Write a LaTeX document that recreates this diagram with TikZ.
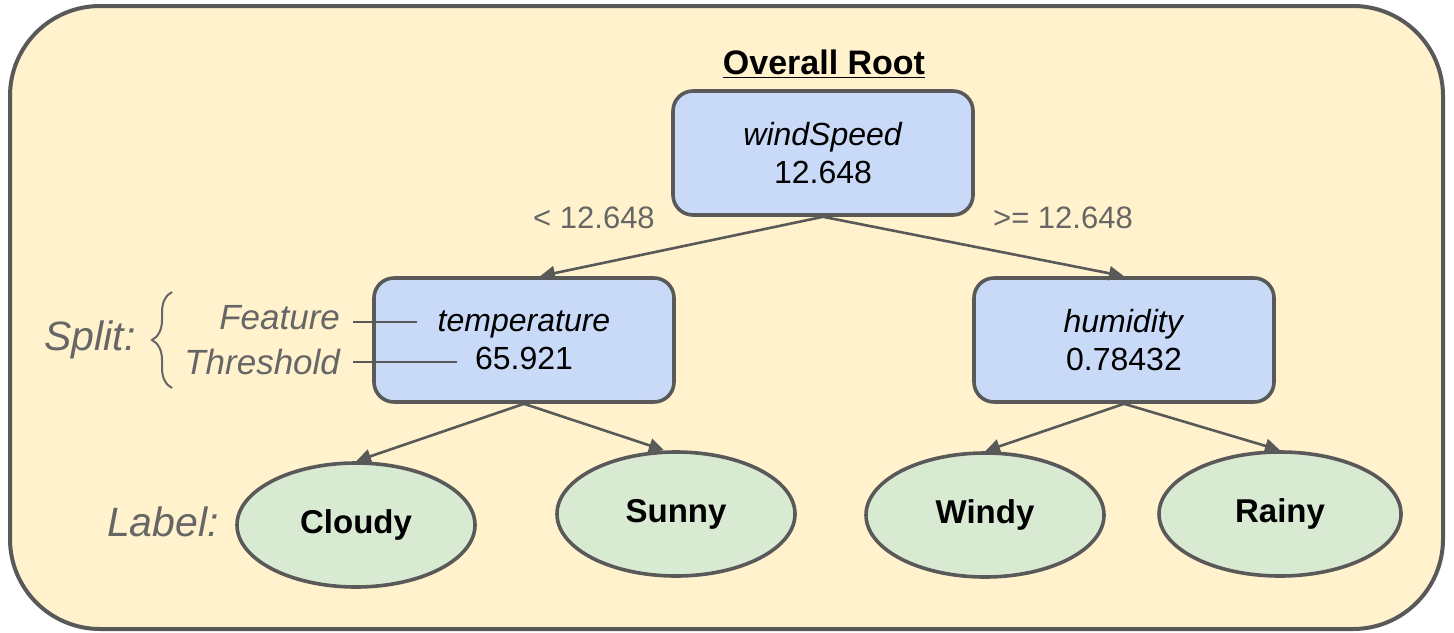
\documentclass[tikz,border=0pt]{standalone}
\usepackage{fontspec}
\setmainfont{Liberation Sans}
\usetikzlibrary{arrows.meta,shapes.geometric,decorations.pathreplacing}

\definecolor{panelfill}{HTML}{FFF2CC}
\definecolor{splitfill}{HTML}{C9DAF8}
\definecolor{leaffill}{HTML}{D9EAD3}
\definecolor{edgegray}{HTML}{595959}
\definecolor{notegray}{HTML}{666666}

\begin{document}
\begin{tikzpicture}[x=0.5pt,y=-0.5pt]
    \tikzset{splitbox/.style={draw=edgegray, line width=1.8pt, fill=splitfill, rounded corners=10pt,
        minimum width=150pt, minimum height=62pt, inner sep=0pt, align=center,
        font=\fontsize{16}{19}\selectfont}}
    \tikzset{leaf/.style={ellipse, draw=edgegray, line width=1.8pt, fill=leaffill,
        minimum width=119pt, minimum height=62pt, inner sep=0pt,
        font=\bfseries\fontsize{16.5}{20}\selectfont}}
    \tikzset{branch/.style={draw=edgegray, line width=1.3pt, -{Triangle[length=7.5pt,width=7pt]}}}
    \tikzset{cond/.style={text=notegray, font=\fontsize{15.5}{18}\selectfont}}
    \tikzset{note/.style={text=notegray, font=\itshape\fontsize{17.5}{21}\selectfont}}
    \tikzset{bignote/.style={text=notegray, font=\itshape\fontsize{20.5}{24}\selectfont}}

    \useasboundingbox (0,0) rectangle (1454,632);
    % background panel
    \draw[edgegray, line width=2pt, fill=panelfill, rounded corners=45pt] (10,6) rectangle (1443,629);

    % split nodes
    \node[font=\bfseries\fontsize{17}{20}\selectfont] (rootlbl) at (824,64) {\underline{Overall Root}};
    \node[splitbox] (wind) at (823,153) {\textit{windSpeed}\\12.648};
    \node[splitbox] (temp) at (524,340) {\textit{temperature}\\65.921};
    \node[splitbox] (humid) at (1124,340) {\textit{humidity}\\0.78432};

    % leaves
    \node[leaf] (cloudy) at (356,525) {Cloudy};
    \node[leaf] (sunny) at (676,514) {Sunny};
    \node[leaf] (windy) at (985,515) {Windy};
    \node[leaf, minimum width=121pt] (rainy) at (1280,514) {Rainy};

    % branches
    \draw[branch] (wind.south) -- ([xshift=8pt]temp.north);
    \draw[branch] (wind.south) -- (humid.north);
    \draw[branch] (temp.south) -- (cloudy.north);
    \draw[branch] (temp.south) -- ([xshift=-6pt]sunny.north);
    \draw[branch] (humid.south) -- (windy.north);
    \draw[branch] (humid.south) -- (rainy.north);

    \node[cond] (lessthan) at (594,218) {< 12.648};
    \node[cond] (atleast) at (1063,218) {>= 12.648};

    % legend on the left
    \node[note, anchor=east] (feature) at (347,318) {Feature};
    \node[note, anchor=east] (threshold) at (347,362) {Threshold};
    \coordinate (featend) at (417,322);
    \coordinate (threshend) at (457,362);
    \draw[edgegray, line width=1.4pt] ([xshift=3pt]feature.east |- featend) -- (featend);
    \draw[edgegray, line width=1.4pt] ([xshift=3pt]threshold.east |- threshend) -- (threshend);
    \draw[notegray, line width=1pt, decorate, decoration={brace, amplitude=10pt}] (172,388) -- (172,292);
    \node[bignote] (split) at (90,340) {Split:};
    \node[bignote] (label) at (163,522) {Label:};
\end{tikzpicture}
\end{document}
